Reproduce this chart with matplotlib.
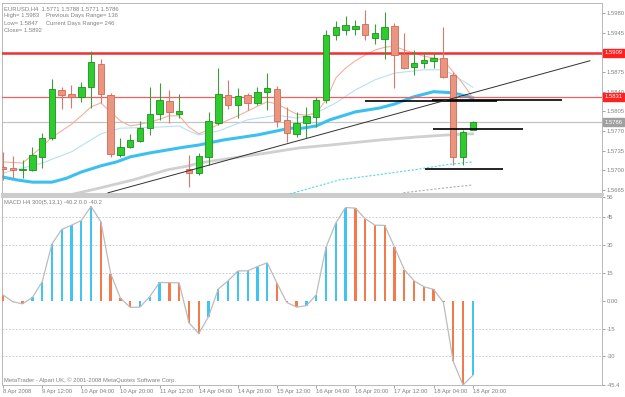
import numpy as np
import matplotlib.pyplot as plt
from matplotlib.transforms import blended_transform_factory

plt.rcParams['font.family'] = ['Liberation Sans', 'DejaVu Sans']

# EURUSD H4, свечи с 8 Apr 20:00 по 18 Apr 20:00
opens = [1.5706, 1.5705, 1.5701, 1.5701, 1.5724, 1.5758, 1.5843, 1.5835, 1.5830, 1.5849,
         1.5890, 1.5834, 1.5728, 1.5741, 1.5753, 1.5776, 1.5800, 1.5823, 1.5801, 1.5702,
         1.5695, 1.5724, 1.5785, 1.5834, 1.5817, 1.5834, 1.5820, 1.5839, 1.5844, 1.5790,
         1.5764, 1.5784, 1.5795, 1.5826, 1.5940, 1.5950, 1.5952, 1.5960, 1.5935, 1.5934,
         1.5957, 1.5907, 1.5884, 1.5891, 1.5895, 1.5900, 1.5870, 1.5724, 1.5771]
highs = [1.5733, 1.5725, 1.5718, 1.5742, 1.5766, 1.5863, 1.5849, 1.5852, 1.5857, 1.5912,
         1.5899, 1.5838, 1.5757, 1.5765, 1.5787, 1.5849, 1.5855, 1.5843, 1.5836, 1.5727,
         1.5730, 1.5803, 1.5883, 1.5861, 1.5846, 1.5838, 1.5849, 1.5874, 1.5850, 1.5813,
         1.5803, 1.5813, 1.5831, 1.5950, 1.5965, 1.5975, 1.5968, 1.5985, 1.5960, 1.5982,
         1.5962, 1.5944, 1.5914, 1.5911, 1.5909, 1.5955, 1.5875, 1.5772, 1.5788]
lows = [1.5683, 1.5686, 1.5686, 1.5698, 1.5705, 1.5754, 1.5810, 1.5811, 1.5822, 1.5811,
        1.5819, 1.5724, 1.5724, 1.5739, 1.5751, 1.5763, 1.5790, 1.5784, 1.5793, 1.5671,
        1.5692, 1.5709, 1.5781, 1.5810, 1.5793, 1.5807, 1.5816, 1.5807, 1.5777, 1.5751,
        1.5760, 1.5757, 1.5777, 1.5819, 1.5932, 1.5940, 1.5940, 1.5932, 1.5925, 1.5898,
        1.5847, 1.5881, 1.5870, 1.5882, 1.5882, 1.5864, 1.5709, 1.5709, 1.5771]
closes = [1.5702, 1.5701, 1.5702, 1.5727, 1.5757, 1.5844, 1.5834, 1.5830, 1.5848, 1.5892,
          1.5835, 1.5729, 1.5741, 1.5754, 1.5775, 1.5800, 1.5825, 1.5803, 1.5806, 1.5695,
          1.5725, 1.5788, 1.5835, 1.5816, 1.5832, 1.5820, 1.5840, 1.5846, 1.5788, 1.5766,
          1.5785, 1.5797, 1.5825, 1.5941, 1.5955, 1.5958, 1.5956, 1.5940, 1.5945, 1.5955,
          1.5905, 1.5882, 1.5891, 1.5896, 1.5900, 1.5866, 1.5724, 1.5768, 1.5786]

# скользящие средние (индекс бара, цена)
ma_fast_idx = [0, 2, 3, 5, 7, 8, 9, 10, 11, 12, 13, 14, 15, 16, 17, 18, 19, 20, 21, 22, 24,
               26, 27, 28, 29, 30, 31, 32, 33, 34, 35, 36, 37, 38, 39, 40, 41, 42, 43, 44,
               45, 46, 47, 48]
ma_fast = [1.5715, 1.5713, 1.5727, 1.5759, 1.5782, 1.5797, 1.5813, 1.5820, 1.5804, 1.5788,
           1.5779, 1.5782, 1.5786, 1.5791, 1.5797, 1.5797, 1.5777, 1.5765, 1.5772, 1.5782,
           1.5797, 1.5814, 1.5822, 1.5818, 1.5809, 1.5800, 1.5798, 1.5802, 1.5825, 1.5864,
           1.5882, 1.5895, 1.5905, 1.5914, 1.5919, 1.5921, 1.5914, 1.5909, 1.5903, 1.5900,
           1.5896, 1.5875, 1.5854, 1.5829]
ma_mid_idx = [0, 4, 7, 10, 12, 14, 16, 18, 19, 20, 22, 25, 28, 30, 32, 34, 36, 38, 40, 43,
              45, 46, 48]
ma_mid = [1.5695, 1.5713, 1.5733, 1.5765, 1.5775, 1.5776, 1.5777, 1.5779, 1.5770, 1.5763,
          1.5770, 1.5790, 1.5798, 1.5793, 1.5802, 1.5820, 1.5843, 1.5861, 1.5873, 1.5879,
          1.5879, 1.5870, 1.5848]
ma_slow_idx = [0, 1.4, 3, 5, 6.5, 8, 10, 11.6, 13, 15, 16.7, 18.4, 20, 22.5, 26, 29.3, 30.6,
               32, 33.4, 36, 38.5, 40, 42, 44, 46, 48]
ma_slow = [1.5688, 1.5683, 1.5679, 1.5679, 1.5686, 1.5697, 1.5708, 1.5715, 1.5724, 1.5731,
           1.5736, 1.5741, 1.5745, 1.5754, 1.5763, 1.5775, 1.5775, 1.5779, 1.5790, 1.5804,
           1.5811, 1.5818, 1.5831, 1.5840, 1.5838, 1.5829]
ma_long_idx = [6, 10, 13.3, 16.8, 19, 20, 23.5, 27, 30.3, 33.4, 38.5, 42, 45.4, 48]
ma_long = [1.5653, 1.5669, 1.5683, 1.5701, 1.5708, 1.5713, 1.5722, 1.5731, 1.5740, 1.5745,
           1.5754, 1.5759, 1.5763, 1.5765]
env_cyan_idx = [29.3, 34.4, 39.5, 42, 45.3, 48]
env_cyan = [1.5658, 1.5683, 1.5695, 1.5701, 1.5710, 1.5715]
env_grey_idx = [40.9, 45.3, 48]
env_grey = [1.5660, 1.5669, 1.5674]

# уровни и отрезки
level_thick = 1.5909
level_thin = 1.5831
bid = 1.5786
segments = [(36.97, 50.46, 1.5824), (43.8, 57.1, 1.5826), (43.9, 53.1, 1.5774), (43.1, 51.1, 1.5702)]
trend = [(10.73, 1.5660), (59.96, 1.5895)]

# MACD H4 300(5,13,1)
macd = [3.2, -0.5, -1.6, 1.8, 10.2, 30.6, 38.5, 40.8, 43.3, 50.9,
        42.6, 14.7, 1.4, -3.5, -3.4, 2.3, 9.9, 9.8, 9.7, -11.8,
        -17.7, -8.5, 6.4, 10.8, 16.1, 16.2, 18.5, 20.5, 9.4, -0.9,
        -3.4, -2.6, 3.2, 28.8, 42.0, 50.3, 50.0, 44.3, 40.8, 40.7,
        29.0, 16.8, 10.8, 7.6, 6.2, -0.9, -32.7, -45.4, -40.2]

xlabels = ['8 Apr 2008', '9 Apr 12:00', '10 Apr 04:00', '10 Apr 20:00', '11 Apr 12:00',
           '14 Apr 04:00', '14 Apr 20:00', '15 Apr 12:00', '16 Apr 04:00', '16 Apr 20:00',
           '17 Apr 12:00', '18 Apr 04:00', '18 Apr 20:00']
price_ticks = [1.5665, 1.5700, 1.5735, 1.5770, 1.5805, 1.5840, 1.5875, 1.5945, 1.5980]
macd_ticks = [56, 45, 30, 15, 0, -15, -30, -45.4]
macd_tick_labels = ['56', '45', '30', '15', '0.00', '-15', '-30', '-45.4']

FS = 4.2
GREY = '#808080'
W, H = 625, 397

fig = plt.figure(figsize=(W / 100, H / 100), dpi=100)
ax = fig.add_axes([2 / W, 1 - 194 / H, 600 / W, 191 / H])
am = fig.add_axes([2 / W, 1 - 385 / H, 600 / W, 188 / H], sharex=ax)

n = len(closes)
x = np.arange(n)
o, h, l, c = map(np.array, (opens, highs, lows, closes))
up = c >= o

# свечи
for i in range(n):
    if up[i]:
        fc, ec, wc = '#2fcc2f', '#1b8f1b', '#3a9e3a'
    else:
        fc, ec, wc = '#ea957f', '#cf6a55', '#d77a6a'
    ax.vlines(x[i], l[i], h[i], color=wc, lw=0.8, zorder=4)
    bot = min(o[i], c[i])
    hgt = abs(c[i] - o[i])
    if hgt < 0.00005:
        ax.hlines(c[i], x[i] - 0.33, x[i] + 0.33, color=ec, lw=0.9, zorder=5)
    else:
        ax.bar(x[i], hgt, bottom=bot, width=0.66, color=fc, edgecolor=ec, lw=0.6, zorder=5)

# средние
ax.plot(ma_long_idx, ma_long, color='#d0d0d0', lw=2.0, zorder=2)
ax.plot(ma_slow_idx, ma_slow, color='#3cc0f0', lw=2.2, zorder=3)
ax.plot(ma_mid_idx, ma_mid, color='#b5e2f2', lw=0.8, zorder=3)
ax.plot(ma_fast_idx, ma_fast, color='#f5b09a', lw=0.8, zorder=3)
ax.plot(env_cyan_idx, env_cyan, color='#55d5f0', lw=0.8, ls=(0, (2, 1.5)), zorder=3)
ax.plot(env_grey_idx, env_grey, color='#b0b0b0', lw=0.8, ls=(0, (2, 1.5)), zorder=3)

# линии
ax.axhline(level_thick, color='#f03030', lw=1.8, zorder=3)
ax.axhline(level_thin, color='#f06060', lw=0.9, zorder=3)
ax.axhline(bid, color='#c4c4c4', lw=0.9, zorder=1)
for x0, x1, p in segments:
    ax.hlines(p, x0, x1, color='black', lw=1.2, zorder=6)
ax.plot([trend[0][0], trend[1][0]], [trend[0][1], trend[1][1]], color='#303030', lw=0.7, zorder=6)

ax.set_xlim(-0.1, 61.2)
ax.set_ylim(1.56579, 1.59978)
ax.yaxis.tick_right()
ax.set_yticks(price_ticks)
ax.set_yticklabels([f'{p:.4f}' for p in price_ticks])
ax.tick_params(axis='y', length=2, width=0.5, color=GREY, labelsize=FS, labelcolor=GREY, pad=1.5)
ax.tick_params(axis='x', bottom=False, labelbottom=False)

tr = blended_transform_factory(ax.transAxes, ax.transData)
for p, fcol in [(level_thick, '#ff2020'), (level_thin, '#ff2020'), (bid, '#a0a0a0')]:
    ax.text(1.004, p, f'{p:.4f}', transform=tr, fontsize=FS, color='white', va='center', ha='left',
            bbox=dict(boxstyle='square,pad=0.25', fc=fcol, ec=fcol), zorder=10, clip_on=False)

header = ['EURUSD,H4  1.5771 1.5788 1.5771 1.5786',
          'High= 1.5983', 'Low= 1.5847', 'Close= 1.5892']
for k, s in enumerate(header):
    ax.text(2 / 600, 1 - (3 + 7.3 * k) / 191, s, transform=ax.transAxes, fontsize=FS,
            color=GREY, va='top', ha='left')
ax.text(44 / 600, 1 - 10.3 / 191, 'Previous Days Range= 136', transform=ax.transAxes,
        fontsize=FS, color=GREY, va='top')
ax.text(44 / 600, 1 - 17.6 / 191, 'Current Days Range= 246', transform=ax.transAxes,
        fontsize=FS, color=GREY, va='top')

# MACD
mv = np.array(macd)
rising = np.r_[False, np.diff(mv) > 0]
cols = np.where(rising, '#40c4f2', '#f47a4c')
am.bar(x, mv, width=0.24, color=cols, zorder=3)
am.plot(x, mv, color='#bcbcbc', lw=0.9, zorder=4)
for lv in [45, 30, 15, -15, -30]:
    am.axhline(lv, color='#b8c6d6', lw=0.6, ls=(0, (2, 2)), zorder=1)
am.set_ylim(-45.4, 56)
am.yaxis.tick_right()
am.set_yticks(macd_ticks)
am.set_yticklabels(macd_tick_labels)
am.tick_params(axis='y', length=2, width=0.5, color=GREY, labelsize=FS, labelcolor=GREY, pad=1.5)
am.set_xticks(np.arange(0, n, 4))
am.set_xticklabels(xlabels, ha='left')
am.tick_params(axis='x', length=2.5, width=0.5, color=GREY, labelsize=FS, labelcolor=GREY, pad=0.5)
am.text(2 / 600, 1 - 3 / 188, 'MACD H4 300(5,13,1) -40.2 0.0 -40.2', transform=am.transAxes,
        fontsize=FS, color=GREY, va='top')
am.text(2 / 600, 2 / 188, 'MetaTrader - Alpari UK, \u00a9 2001-2008 MetaQuotes Software Corp.',
        transform=am.transAxes, fontsize=FS, color=GREY, va='bottom')

for a in (ax, am):
    for s in ('left', 'top', 'right', 'bottom'):
        a.spines[s].set_color('#b8b8b8')
        a.spines[s].set_linestyle((0, (1, 1)))
        a.spines[s].set_linewidth(0.7)
ax.spines['bottom'].set_linewidth(2.2)
ax.spines['bottom'].set_color('#cccccc')
am.spines['top'].set_linewidth(1.5)
am.spines['top'].set_color('#cccccc')

fig.savefig('out.png', dpi=100)
